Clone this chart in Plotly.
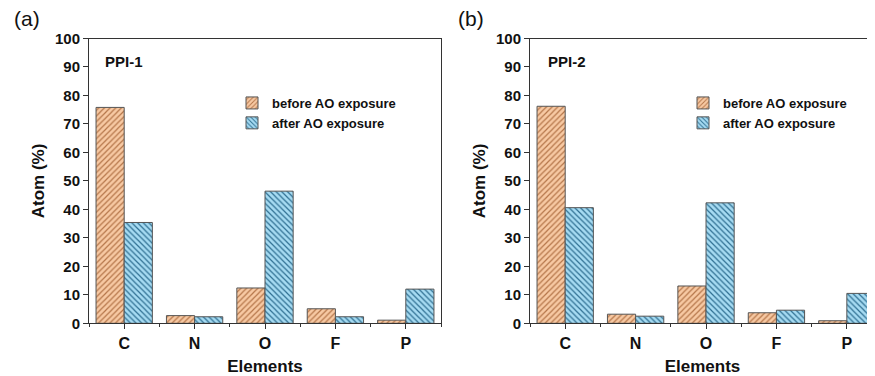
import plotly.graph_objects as go

categories = ["C", "N", "O", "F", "P"]
ppi1_before = [75.8, 2.7, 12.4, 5.1, 1.1]
ppi1_after = [35.4, 2.3, 46.4, 2.3, 12.0]
ppi2_before = [76.2, 3.2, 13.1, 3.7, 0.9]
ppi2_after = [40.6, 2.5, 42.3, 4.6, 10.5]
series_names = ["before AO exposure", "after AO exposure"]
yticks = list(range(0, 101, 10))

FONT = "Liberation Sans, Arial, sans-serif"
BEFORE_BG = "#F7C9A3"
BEFORE_FG = "#B5764A"
AFTER_BG = "#A6DBF2"
AFTER_FG = "#2F6F92"
EDGE = "#555555"

# page body has an 8px margin; figure is sized to fill the rest of the window
OFF = 8
W, H = 875 - OFF, 376 - OFF

def px(xp):
    return (xp - OFF) / W

def py(yp):
    return (H - (yp - OFF)) / H

xpos = list(range(len(categories)))

fig = go.Figure()

def add_bars(before, after, xa, ya, legend):
    fig.add_trace(go.Bar(
        x=xpos, y=before, name="<b>" + series_names[0] + "</b>", xaxis=xa, yaxis=ya, legend=legend,
        marker=dict(color=BEFORE_BG, line=dict(color=EDGE, width=1),
                    pattern=dict(shape="/", bgcolor=BEFORE_BG, fgcolor=BEFORE_FG,
                                 size=4, solidity=0.3, fillmode="replace")),
    ))
    fig.add_trace(go.Bar(
        x=xpos, y=after, name="<b>" + series_names[1] + "</b>", xaxis=xa, yaxis=ya, legend=legend,
        marker=dict(color=AFTER_BG, line=dict(color=EDGE, width=1),
                    pattern=dict(shape="\\", bgcolor=AFTER_BG, fgcolor=AFTER_FG,
                                 size=4, solidity=0.3, fillmode="replace")),
    ))

add_bars(ppi1_before, ppi1_after, "x", "y", "legend")
add_bars(ppi2_before, ppi2_after, "x2", "y2", "legend2")

xcommon = dict(
    tickmode="array", tickvals=xpos, ticktext=["<b>" + c + "</b>" for c in categories],
    ticks="outside", ticklen=5, tickwidth=1, tickcolor="#333",
    showline=True, linecolor="#333", linewidth=1, showgrid=False, zeroline=False,
    automargin=False,
    tickfont=dict(family=FONT, size=16, color="#111"),
    title=dict(text="<b>Elements</b>", font=dict(family=FONT, size=17, color="#111"), standoff=10),
    minor=dict(tickmode="linear", tick0=0.5, dtick=1, ticks="outside", ticklen=3, tickcolor="#333", showgrid=False),
)
ycommon = dict(
    range=[0, 100], tickmode="array", tickvals=yticks, ticktext=["<b>%d</b>" % v for v in yticks],
    ticks="outside", ticklen=5, tickwidth=1, tickcolor="#333",
    showline=True, linecolor="#333", linewidth=1, showgrid=False, zeroline=False,
    automargin=False,
    tickfont=dict(family=FONT, size=15, color="#111"),
    title=dict(text="<b>Atom (%)</b>", font=dict(family=FONT, size=17, color="#111"), standoff=6),
)

fig.update_layout(
    width=W, height=H,
    margin=dict(l=0, r=0, t=0, b=0, autoexpand=False),
    paper_bgcolor="white", plot_bgcolor="white",
    barmode="group", bargap=0.2, bargroupgap=0,
    font=dict(family=FONT, color="#111"),
    xaxis=dict(domain=[px(89), px(441)], range=[-0.5, 4.5], mirror=True, anchor="y", **xcommon),
    yaxis=dict(domain=[py(323.3), py(38.5)], mirror=True, anchor="x", **ycommon),
    xaxis2=dict(domain=[px(530), 1.0], range=[-0.5, 4.4], mirror=True, anchor="y2", **xcommon),
    yaxis2=dict(domain=[py(323.3), py(38.5)], mirror=False, anchor="x2", **ycommon),
    legend=dict(x=px(232), y=py(88), xanchor="left", yanchor="top",
                bgcolor="rgba(0,0,0,0)", tracegroupgap=0,
                font=dict(family=FONT, size=13, color="#111")),
    legend2=dict(x=px(683), y=py(88), xanchor="left", yanchor="top",
                 bgcolor="rgba(0,0,0,0)", tracegroupgap=0,
                 font=dict(family=FONT, size=13, color="#111")),
    annotations=[
        dict(text="(a)", x=px(12), y=py(18), xref="paper", yref="paper",
             xanchor="left", yanchor="middle", showarrow=False,
             font=dict(family=FONT, size=21, color="#111")),
        dict(text="(b)", x=px(456), y=py(18), xref="paper", yref="paper",
             xanchor="left", yanchor="middle", showarrow=False,
             font=dict(family=FONT, size=21, color="#111")),
        dict(text="<b>PPI-1</b>", x=px(103), y=py(62), xref="paper", yref="paper",
             xanchor="left", yanchor="middle", showarrow=False,
             font=dict(family=FONT, size=15, color="#111")),
        dict(text="<b>PPI-2</b>", x=px(546), y=py(62), xref="paper", yref="paper",
             xanchor="left", yanchor="middle", showarrow=False,
             font=dict(family=FONT, size=15, color="#111")),
    ],
)

fig.write_html("out.html")
